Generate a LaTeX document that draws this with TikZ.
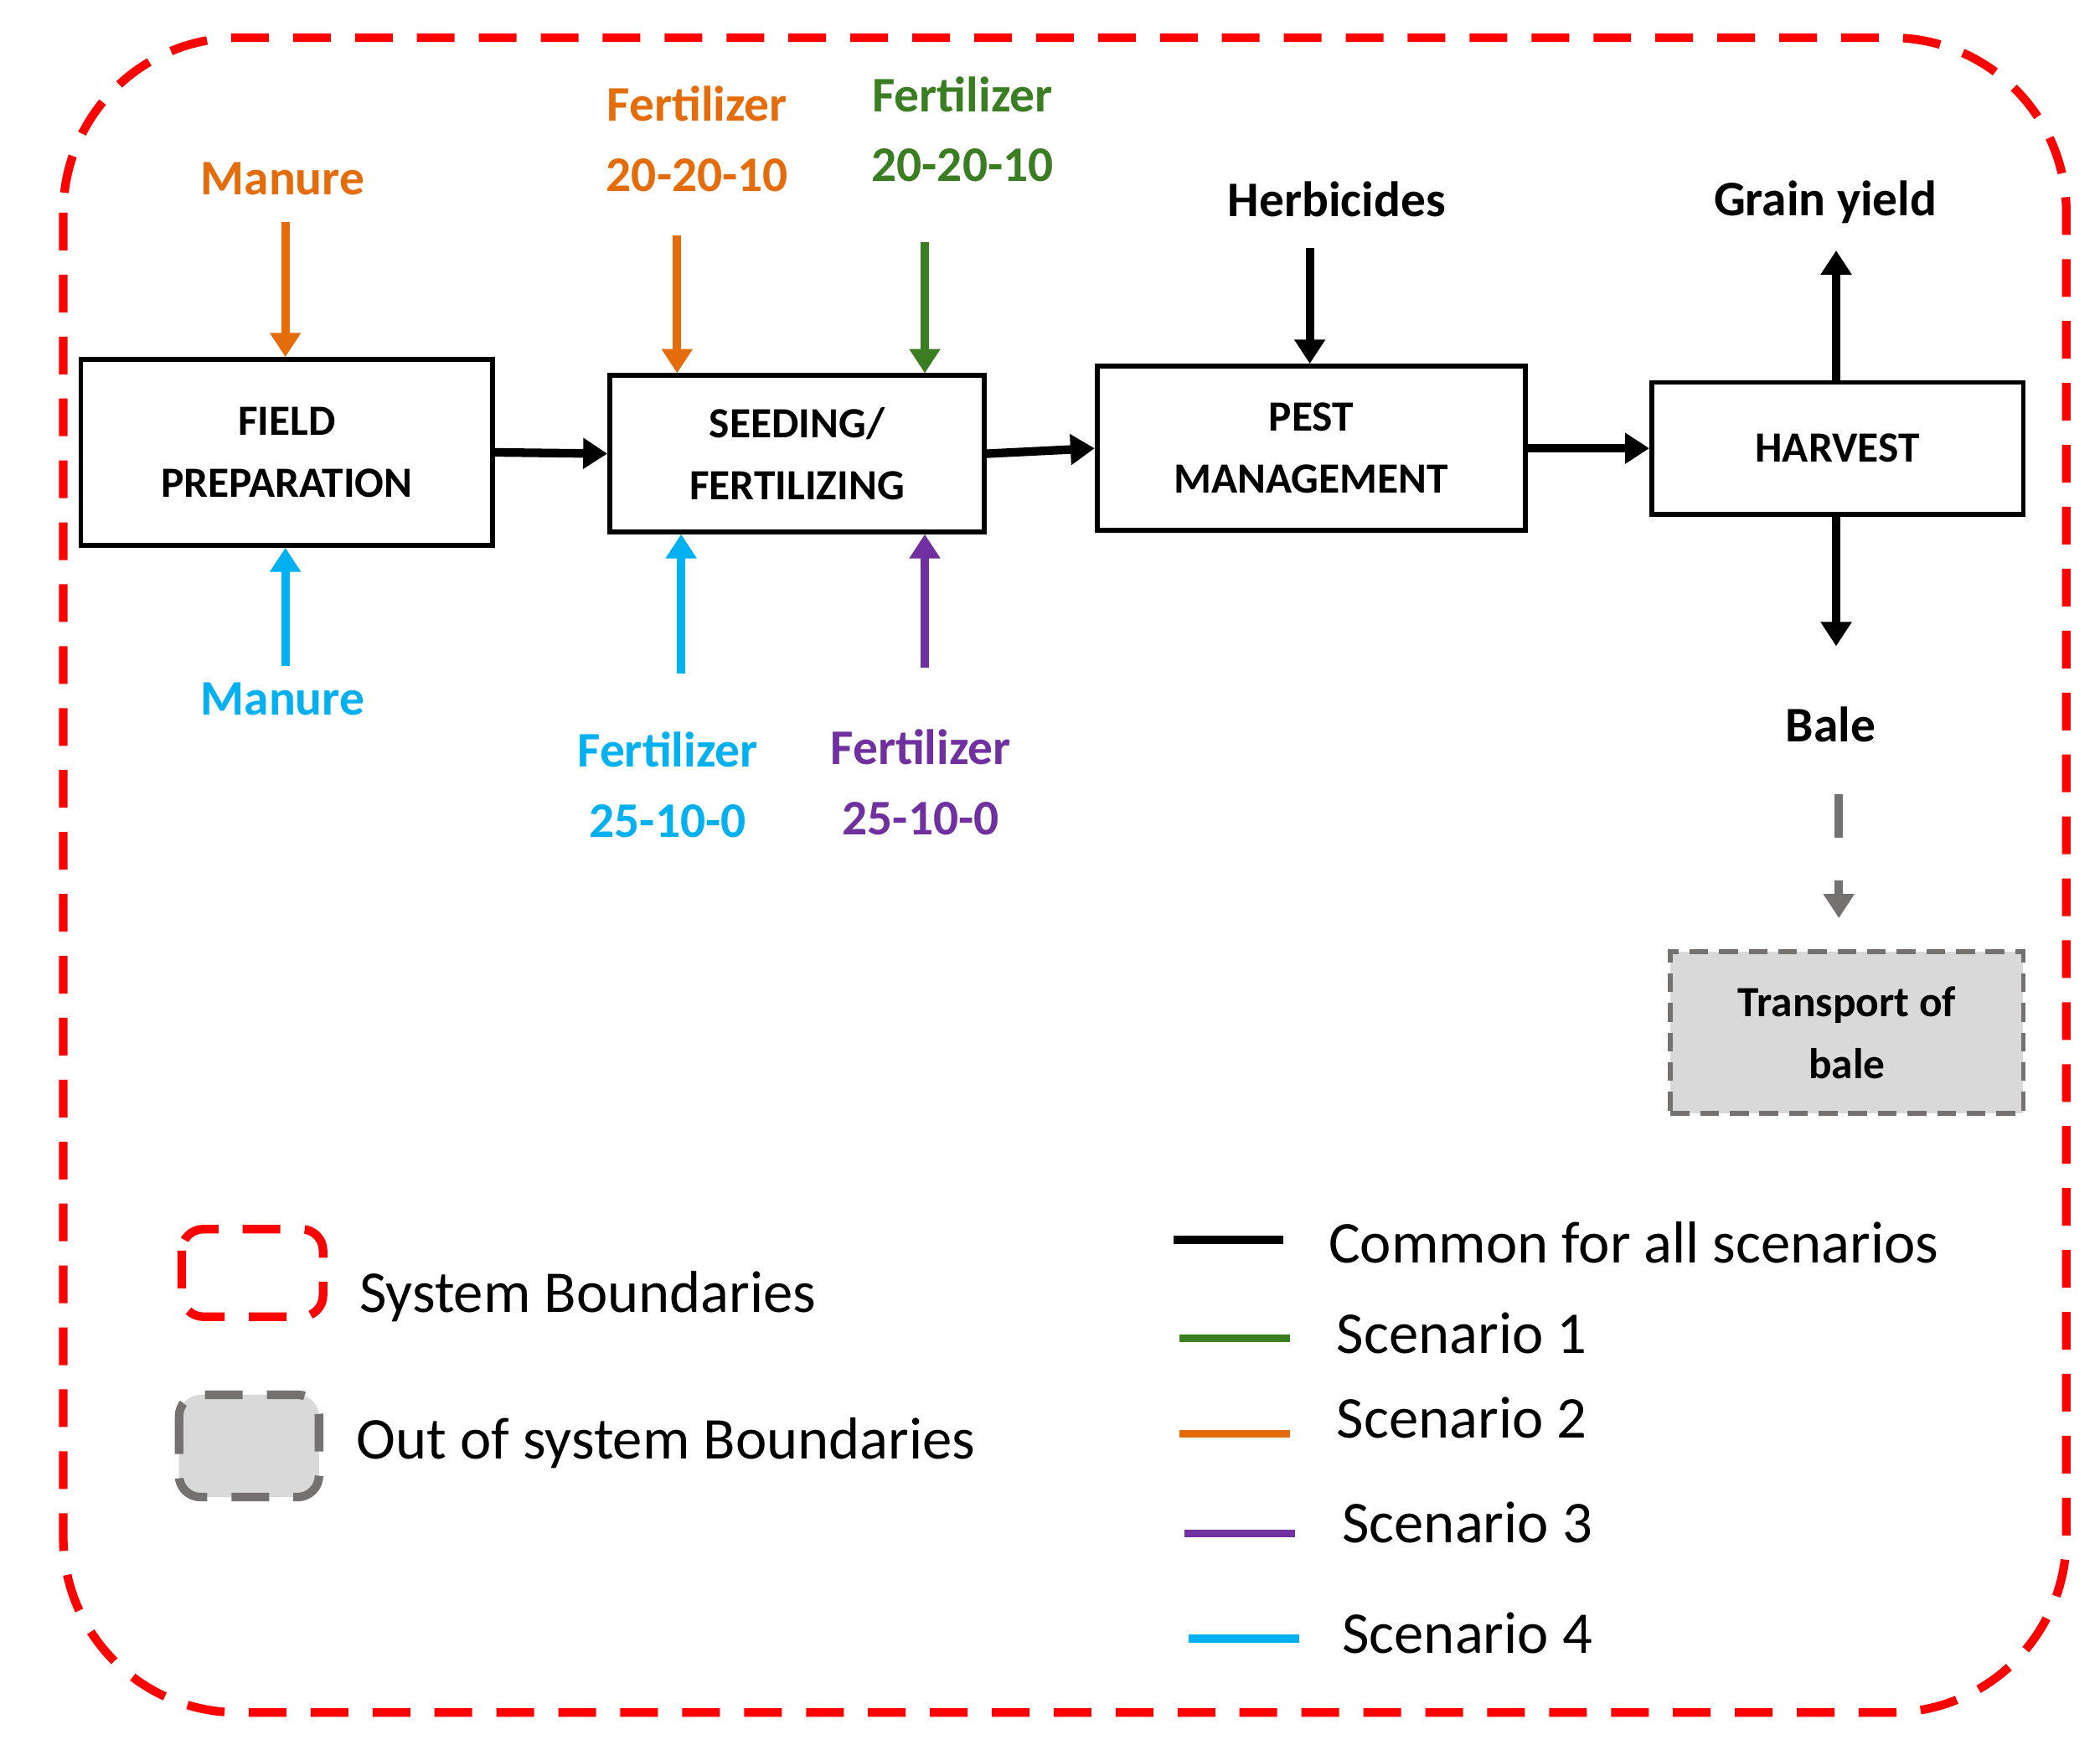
\documentclass[tikz,border=0pt]{standalone}
\usepackage{fontspec}
\setmainfont{Carlito}
\usetikzlibrary{arrows.meta}
\definecolor{cor}{HTML}{E46C0A}
\definecolor{cgr}{HTML}{3A7D22}
\definecolor{ccy}{HTML}{00B0F0}
\definecolor{cpu}{HTML}{7030A0}
\definecolor{cgy}{HTML}{767171}
\begin{document}
\begin{tikzpicture}[x=0.5pt,y=-0.5pt,
 box/.style={draw,line width=1.8pt,fill=white,align=center,font=\bfseries\fontsize{16}{23}\selectfont,inner sep=0pt},
 lab/.style={align=center,font=\bfseries\fontsize{18.5}{26}\selectfont},
 leg/.style={anchor=west,font=\fontsize{22}{26}\selectfont},
 ar/.style={line width=3.2pt,-{Triangle[length=9pt,width=11pt]}}]
\useasboundingbox (0,0) rectangle (1560,1296);
\draw[red,line width=3.2pt,dash pattern=on 14pt off 9pt,rounded corners=65pt] (47,28) rectangle (1535,1272);
\node[box,minimum width=153pt,minimum height=69pt] (fp) at (213,336) {FIELD\\PREPARATION};
\node[box,minimum width=139pt,minimum height=58pt] (sf) at (592,337) {SEEDING/\\FERTILIZING};
\node[box,minimum width=159pt,minimum height=61pt] (pm) at (974,333) {PEST\\MANAGEMENT};
\node[box,minimum width=138pt,minimum height=49pt] (hv) at (1365,333) {HARVEST};
\node[box,fill=gray!30,draw=cgy,dash pattern=on 7pt off 4pt,minimum width=131pt,minimum height=60pt] (tb) at (1372,767) {Transport of\\bale};
\draw[ar] (fp.east) -- (sf.west);
\draw[ar] (sf.east) -- (pm.west);
\draw[ar] (pm.east) -- (hv.west);
\node[lab,text=cor] (m1) at (210,133) {Manure};
\node[lab,text=ccy] (m2) at (210,519) {Manure};
\node[lab,text=cor] (f1) at (518,103) {Fertilizer\\20-20-10};
\node[lab,text=cgr] (f2) at (715,96) {Fertilizer\\20-20-10};
\node[lab,text=ccy] (f3) at (496,583) {Fertilizer\\25-10-0};
\node[lab,text=cpu] (f4) at (684,581) {Fertilizer\\25-10-0};
\node[lab] (hb) at (993,148) {Herbicides};
\node[lab] (gy) at (1356,150) {Grain yield};
\node[lab] (bl) at (1360,538) {Bale};
\coordinate (a1) at (212,165); \draw[ar,cor] (a1) -- (a1 |- fp.north);
\coordinate (a2) at (212,495); \draw[ar,ccy] (a2) -- (a2 |- fp.south);
\coordinate (a3) at (503,175); \draw[ar,cor] (a3) -- (a3 |- sf.north);
\coordinate (a4) at (687,180); \draw[ar,cgr] (a4) -- (a4 |- sf.north);
\coordinate (a5) at (506,500); \draw[ar,ccy] (a5) -- (a5 |- sf.south);
\coordinate (a6) at (687,496); \draw[ar,cpu] (a6) -- (a6 |- sf.south);
\coordinate (a7) at (973,184); \draw[ar] (a7) -- (a7 |- pm.north);
\coordinate (a8) at (1364,186); \draw[ar] (a8 |- hv.north) -- (a8);
\coordinate (a9) at (1364,480); \draw[ar] (a9 |- hv.south) -- (a9);
\coordinate (b1) at (1366,590); \coordinate (b2) at (1366,682);
\draw[cgy,line width=3.2pt,dash pattern=on 16pt off 16pt,-{Triangle[length=9pt,width=11pt]}] (b1) -- (b2);
\draw[red,line width=3.2pt,dash pattern=on 14pt off 9pt,rounded corners=8pt] (135,913) rectangle (240,978);
\draw[cgy,fill=gray!30,line width=3.2pt,dash pattern=on 14pt off 9pt,rounded corners=8pt] (133,1036) rectangle (237,1112);
\node[leg] at (260,963) {System Boundaries};
\node[leg] at (258,1072) {Out of system Boundaries};
\draw[line width=3pt] (872,921) -- (953,921); \node[leg] at (980,923) {Common for all scenarios};
\draw[cgr,line width=3pt] (876,994) -- (958,994); \node[leg] at (986,990) {Scenario 1};
\draw[cor,line width=3pt] (876,1065) -- (958,1065); \node[leg] at (986,1053) {Scenario 2};
\draw[cpu,line width=3pt] (880,1139) -- (962,1139); \node[leg] at (990,1131) {Scenario 3};
\draw[ccy,line width=3pt] (883,1217) -- (965,1217); \node[leg] at (990,1213) {Scenario 4};
\end{tikzpicture}
\end{document}
